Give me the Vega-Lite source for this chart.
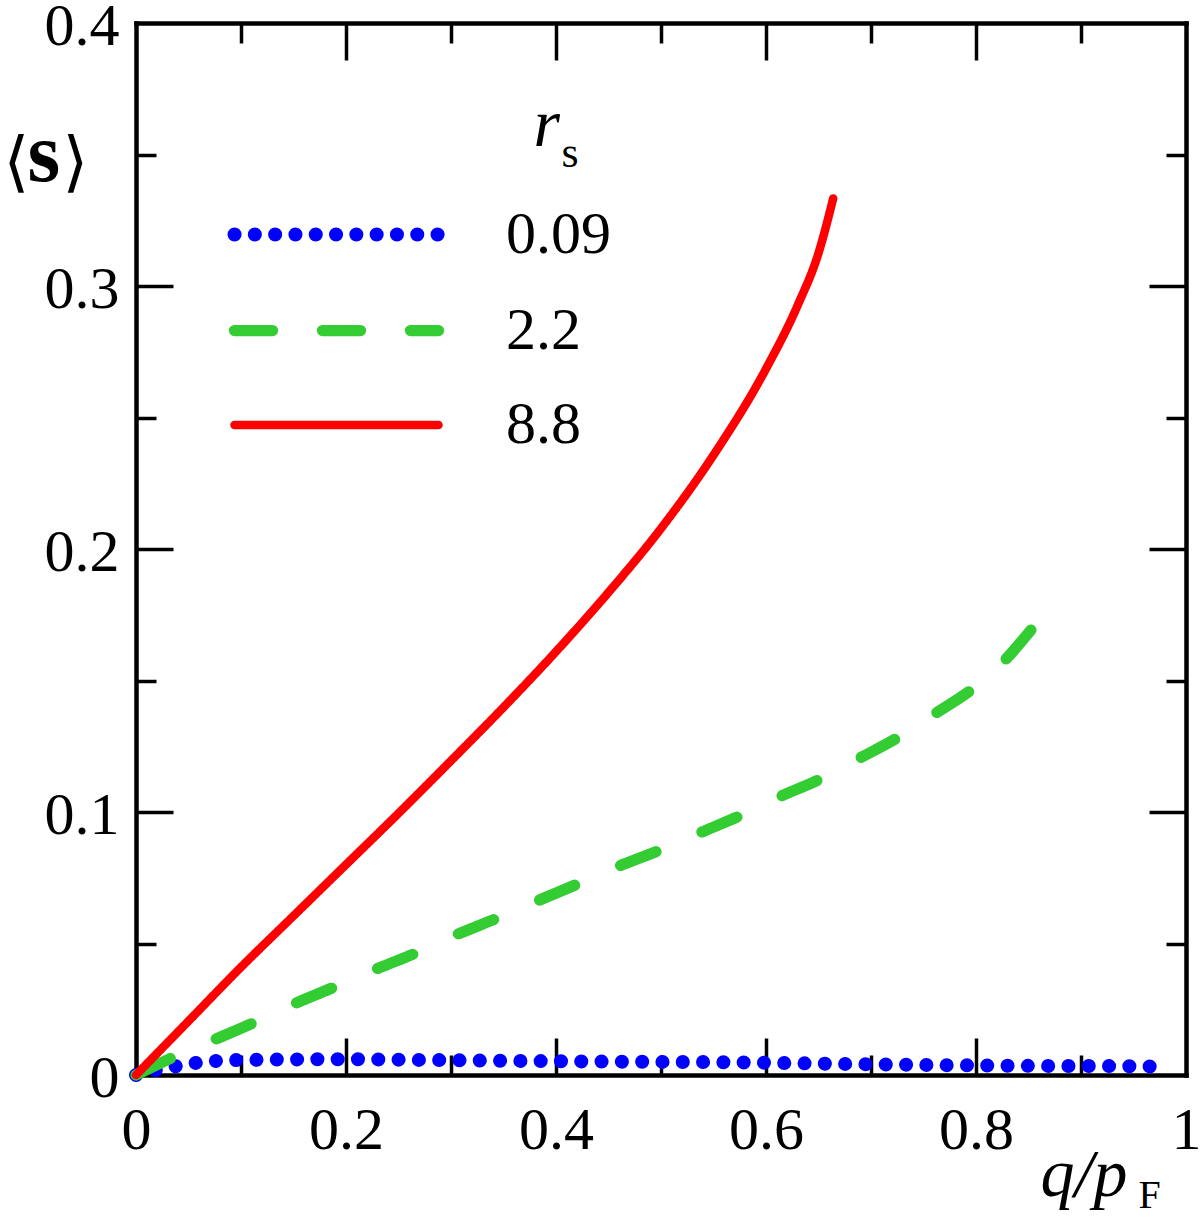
{
  "$schema": "https://vega.github.io/schema/vega-lite/v6.json",
  "autosize": {"type": "none"},
  "padding": {"left": 136, "top": 23, "right": 14, "bottom": 142},
  "width": 1050,
  "height": 1052,
  "background": "white",
  "config": {
    "view": {"stroke": null},
    "axis": {"grid": false, "domainColor": "black", "tickColor": "black", "labelColor": "black", "titleColor": "black", "domainWidth": 4.5, "domainCap": "square", "tickWidth": 3.5, "labelFont": "Liberation Serif", "titleFont": "Liberation Serif", "labelFlush": false, "labelOverlap": false}
  },
  "data": {
    "values": [
      {"rs": "0.09", "q": 0, "s": 0},
      {"rs": "0.09", "q": 0.02, "s": 0.002},
      {"rs": "0.09", "q": 0.045, "s": 0.0038},
      {"rs": "0.09", "q": 0.065, "s": 0.005},
      {"rs": "0.09", "q": 0.1, "s": 0.0057},
      {"rs": "0.09", "q": 0.2, "s": 0.006},
      {"rs": "0.09", "q": 0.28, "s": 0.0057},
      {"rs": "0.09", "q": 0.35, "s": 0.0054},
      {"rs": "0.09", "q": 0.45, "s": 0.0051},
      {"rs": "0.09", "q": 0.57, "s": 0.0048},
      {"rs": "0.09", "q": 0.66, "s": 0.0043},
      {"rs": "0.09", "q": 0.76, "s": 0.0038},
      {"rs": "0.09", "q": 0.84, "s": 0.0035},
      {"rs": "0.09", "q": 0.92, "s": 0.0034},
      {"rs": "0.09", "q": 0.98, "s": 0.0032},
      {"rs": "2.2", "q": 0, "s": 0},
      {"rs": "2.2", "q": 0.04, "s": 0.0076},
      {"rs": "2.2", "q": 0.075, "s": 0.0135},
      {"rs": "2.2", "q": 0.115, "s": 0.0204},
      {"rs": "2.2", "q": 0.151, "s": 0.0271},
      {"rs": "2.2", "q": 0.193, "s": 0.0341},
      {"rs": "2.2", "q": 0.229, "s": 0.0403},
      {"rs": "2.2", "q": 0.269, "s": 0.0468},
      {"rs": "2.2", "q": 0.305, "s": 0.0533},
      {"rs": "2.2", "q": 0.345, "s": 0.0598},
      {"rs": "2.2", "q": 0.383, "s": 0.0663},
      {"rs": "2.2", "q": 0.421, "s": 0.0727},
      {"rs": "2.2", "q": 0.458, "s": 0.0791},
      {"rs": "2.2", "q": 0.5, "s": 0.0857},
      {"rs": "2.2", "q": 0.536, "s": 0.0919},
      {"rs": "2.2", "q": 0.577, "s": 0.0989},
      {"rs": "2.2", "q": 0.612, "s": 0.1056},
      {"rs": "2.2", "q": 0.653, "s": 0.1128},
      {"rs": "2.2", "q": 0.686, "s": 0.1198},
      {"rs": "2.2", "q": 0.726, "s": 0.1284},
      {"rs": "2.2", "q": 0.759, "s": 0.1369},
      {"rs": "2.2", "q": 0.796, "s": 0.1466},
      {"rs": "2.2", "q": 0.826, "s": 0.1571},
      {"rs": "2.2", "q": 0.855, "s": 0.1705},
      {"rs": "8.8", "q": 0, "s": 0},
      {"rs": "8.8", "q": 0.05, "s": 0.0205},
      {"rs": "8.8", "q": 0.1, "s": 0.041},
      {"rs": "8.8", "q": 0.15, "s": 0.0605},
      {"rs": "8.8", "q": 0.2, "s": 0.08},
      {"rs": "8.8", "q": 0.25, "s": 0.0995},
      {"rs": "8.8", "q": 0.3, "s": 0.1195},
      {"rs": "8.8", "q": 0.35, "s": 0.1398},
      {"rs": "8.8", "q": 0.4, "s": 0.161},
      {"rs": "8.8", "q": 0.45, "s": 0.1835},
      {"rs": "8.8", "q": 0.5, "s": 0.2078},
      {"rs": "8.8", "q": 0.55, "s": 0.2357},
      {"rs": "8.8", "q": 0.6, "s": 0.2685},
      {"rs": "8.8", "q": 0.63, "s": 0.2925},
      {"rs": "8.8", "q": 0.65, "s": 0.3125},
      {"rs": "8.8", "q": 0.664, "s": 0.3333}
    ]
  },
  "resolve": {"axis": {"x": "independent", "y": "independent"}},
  "layer": [
    {
      "mark": {"type": "line", "interpolate": "monotone", "strokeCap": "round", "strokeJoin": "round"},
      "encoding": {
        "x": {"field": "q", "type": "quantitative", "scale": {"domain": [0, 1], "nice": false},
          "axis": {"orient": "bottom", "values": [0, 0.2, 0.4, 0.6, 0.8, 1], "format": "~g", "ticks": false, "domain": true, "labelFontSize": 60, "labelPadding": 73, "labelBaseline": "alphabetic",
            "title": "q/p", "titleFontSize": 68, "titleFontStyle": "italic", "titleFontWeight": "normal", "titleAngle": 0, "titleAlign": "left", "titleBaseline": "alphabetic", "titleX": 904, "titleY": 120}},
        "y": {"field": "s", "type": "quantitative", "scale": {"domain": [0, 0.4], "nice": false},
          "axis": {"orient": "left", "values": [0, 0.1, 0.2, 0.3, 0.4], "format": "~g", "ticks": false, "domain": true, "labelFontSize": 60, "labelPadding": 17, "labelBaseline": "alphabetic", "labelOffset": 21,
            "title": "⟨", "titleFont": "DejaVu Serif", "titleFontSize": 66, "titleFontWeight": "normal", "titleAngle": 0, "titleAlign": "left", "titleBaseline": "alphabetic", "titleX": -133, "titleY": 160}},
        "color": {"field": "rs", "type": "ordinal", "scale": {"domain": ["0.09", "2.2", "8.8"], "range": ["#0000ff", "#33cc33", "#ff0000"]},
          "legend": {"orient": "none", "legendX": 168, "legendY": 179, "title": null, "symbolType": "M-4,0H4", "symbolSize": 2601, "labelFont": "Liberation Serif", "labelFontSize": 60, "labelColor": "black", "labelOffset": 137, "labelBaseline": "middle", "rowPadding": 34, "padding": 0,
            "encode": {"symbols": {"enter": {"strokeCap": {"value": "round"}, "strokeDash": {"signal": "datum.value === '0.09' ? [0.1, 23.1] : datum.value === '2.2' ? [38, 50] : [1, 0]"}}, "update": {"strokeCap": {"value": "round"}, "fill": {"value": "transparent"}, "strokeDash": {"signal": "datum.value === '0.09' ? [0.1, 23.1] : datum.value === '2.2' ? [38, 50] : [1, 0]"}}}}}},
        "strokeDash": {"field": "rs", "type": "ordinal", "scale": {"domain": ["0.09", "2.2", "8.8"], "range": [[0.1, 20.2], [38, 50], [1, 0]]}},
        "strokeWidth": {"field": "rs", "type": "ordinal", "scale": {"domain": ["0.09", "2.2", "8.8"], "range": [14, 8.5]}}
      }
    },
    {
      "mark": {"type": "point", "opacity": 0},
      "encoding": {
        "x": {"field": "q", "type": "quantitative", "scale": {"domain": [0, 1], "nice": false},
          "axis": {"orient": "bottom", "values": [0.2, 0.4, 0.6, 0.8], "labels": false, "domain": false, "tickSize": -37,
            "title": "F", "titleFontSize": 40, "titleFontWeight": "normal", "titleAngle": 0, "titleAlign": "left", "titleBaseline": "alphabetic", "titleX": 1002, "titleY": 132}},
        "y": {"field": "s", "type": "quantitative", "scale": {"domain": [0, 0.4], "nice": false},
          "axis": {"orient": "left", "values": [0.1, 0.2, 0.3], "labels": false, "domain": false, "tickSize": -37,
            "title": "s", "titleFontSize": 84, "titleFontWeight": "bold", "titleAngle": 0, "titleAlign": "left", "titleBaseline": "alphabetic", "titleX": -109, "titleY": 157}}
      }
    },
    {
      "mark": {"type": "point", "opacity": 0},
      "encoding": {
        "x": {"field": "q", "type": "quantitative", "scale": {"domain": [0, 1], "nice": false},
          "axis": {"orient": "bottom", "values": [0.1, 0.3, 0.5, 0.7, 0.9], "labels": false, "domain": false, "tickSize": -20, "title": null}},
        "y": {"field": "s", "type": "quantitative", "scale": {"domain": [0, 0.4], "nice": false},
          "axis": {"orient": "left", "values": [0.05, 0.15, 0.25, 0.35], "labels": false, "domain": false, "tickSize": -20,
            "title": "⟩", "titleFont": "DejaVu Serif", "titleFontSize": 66, "titleFontWeight": "normal", "titleAngle": 0, "titleAlign": "left", "titleBaseline": "alphabetic", "titleX": -74, "titleY": 160}}
      }
    },
    {
      "mark": {"type": "point", "opacity": 0},
      "encoding": {
        "x": {"field": "q", "type": "quantitative", "scale": {"domain": [0, 1], "nice": false},
          "axis": {"orient": "top", "values": [0.2, 0.4, 0.6, 0.8], "labels": false, "domain": true, "tickSize": -37,
            "title": "r", "titleFontSize": 68, "titleFontStyle": "italic", "titleFontWeight": "normal", "titleAngle": 0, "titleAlign": "left", "titleBaseline": "alphabetic", "titleX": 397, "titleY": 122}},
        "y": {"field": "s", "type": "quantitative", "scale": {"domain": [0, 0.4], "nice": false},
          "axis": {"orient": "right", "values": [0.1, 0.2, 0.3], "labels": false, "domain": true, "tickSize": -37,
            "title": "s", "titleFontSize": 44, "titleFontWeight": "normal", "titleAngle": 0, "titleAlign": "left", "titleBaseline": "alphabetic", "titleX": -625, "titleY": 143}}
      }
    },
    {
      "mark": {"type": "point", "opacity": 0},
      "encoding": {
        "x": {"field": "q", "type": "quantitative", "scale": {"domain": [0, 1], "nice": false},
          "axis": {"orient": "top", "values": [0.1, 0.3, 0.5, 0.7, 0.9], "labels": false, "domain": false, "tickSize": -20, "title": null}},
        "y": {"field": "s", "type": "quantitative", "scale": {"domain": [0, 0.4], "nice": false},
          "axis": {"orient": "right", "values": [0.05, 0.15, 0.25, 0.35], "labels": false, "domain": false, "tickSize": -20, "title": null}}
      }
    }
  ]
}
